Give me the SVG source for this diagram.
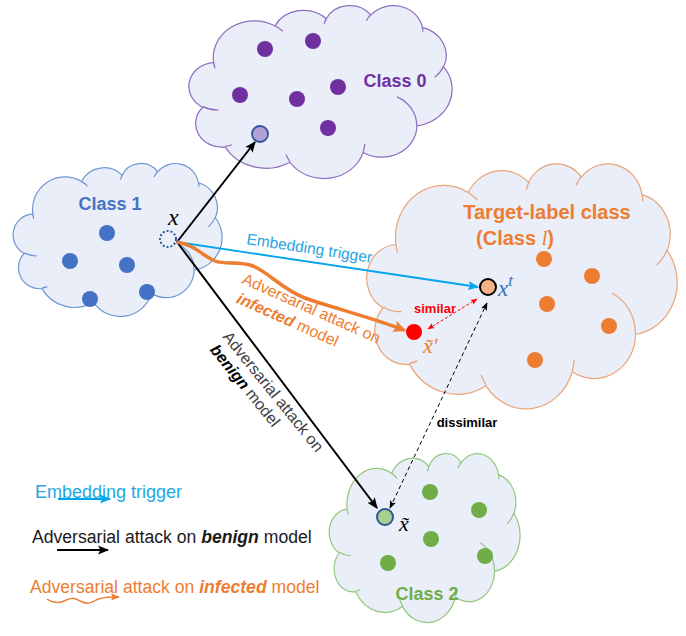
<svg xmlns="http://www.w3.org/2000/svg" width="686" height="636" viewBox="0 0 686 636">
<style>
.cl{fill:#E9EEF8;stroke-width:1.2}
.hk{fill:none;stroke-width:1.2}
.t{font-family:"Liberation Sans","Noto Sans",sans-serif}
.lab{font-family:"Liberation Sans","Noto Sans",sans-serif;font-weight:bold;font-size:18px;text-anchor:middle}
.m{font-family:"Liberation Serif","DejaVu Serif",serif;font-style:italic}
.d1{fill:#4472C4}.d0{fill:#7030A0}.dl{fill:#ED7D31}.d2{fill:#70AD47}
</style>
<defs>
<path id="cloud" vector-effect="non-scaling-stroke" d="M90.3,332.6 A156.3,212.7 0 0 1 324.2,120.4 A123.4,168.2 0 0 1 519.8,79.5 A101,137.6 0 0 1 690.6,57.5 A112.4,152.7 0 0 1 887,129.1 A123.4,168.4 0 0 1 968.1,357.8 A156.8,213.4 0 0 1 865.9,699.1 A133.9,182.1 0 0 1 661,852.1 A156.3,213.3 0 0 1 381.5,908.9 A178.7,244.1 0 0 1 134.4,821 A100.9,137 0 0 1 48.9,591.3 A100.6,137.6 0 0 1 90.3,332.6 Z"/>
<path id="hooks" vector-effect="non-scaling-stroke" d="M108.6,606 A100.6,137.6 0 0 1 50,587.5 M160.4,807.8 A100.9,137 0 0 1 134.7,816.7 M381.4,904.9 A156.3,213.3 0 0 1 366,864.6 M667.3,804.4 A156.3,213.3 0 0 1 661.1,848.6 M790,531.3 A133.9,182.1 0 0 1 865.3,696.5 M967.5,355.4 A123.4,168.4 0 0 1 934,417.4 M887.1,125.6 A112.4,152.7 0 0 1 888.9,154.9 M673.1,91.5 A112.4,152.7 0 0 1 690.3,54.1 M512.5,109.3 A101,137.6 0 0 1 520.8,77.1 M324.1,120.2 A156.3,212.7 0 0 1 354.2,151.4 M95.5,365.5 A156.3,212.7 0 0 1 90.3,332.7"/>
<marker id="ak" viewBox="0 0 10 10" refX="9" refY="5" markerWidth="11" markerHeight="11" orient="auto" markerUnits="userSpaceOnUse"><path d="M0,0.8 L10,5 L0,9.2 L2,5 Z" fill="#000"/></marker>
<marker id="ab" viewBox="0 0 10 10" refX="9" refY="5" markerWidth="11" markerHeight="11" orient="auto" markerUnits="userSpaceOnUse"><path d="M0,0.8 L10,5 L0,9.2 L2,5 Z" fill="#00A6EC"/></marker>
<marker id="ao" viewBox="0 0 10 10" refX="8" refY="5" markerWidth="13" markerHeight="13" orient="auto" markerUnits="userSpaceOnUse"><path d="M0,0.5 L10,5 L0,9.5 L2,5 Z" fill="#ED7D31"/></marker>
<marker id="ao2" viewBox="0 0 10 10" refX="9" refY="5" markerWidth="9" markerHeight="9" orient="auto" markerUnits="userSpaceOnUse"><path d="M0,1 L10,5 L0,9 L2,5 Z" fill="#ED7D31"/></marker>
<marker id="ar" viewBox="0 0 10 10" refX="9" refY="5" markerWidth="7" markerHeight="7" orient="auto-start-reverse" markerUnits="userSpaceOnUse"><path d="M0,1 L10,5 L0,9 L2,5 Z" fill="#FF0000"/></marker>
<marker id="ad" viewBox="0 0 10 10" refX="9" refY="5" markerWidth="8" markerHeight="8" orient="auto-start-reverse" markerUnits="userSpaceOnUse"><path d="M0,1 L10,5 L0,9 L2,5 Z" fill="#000"/></marker>
</defs>

<g id="class1">
<use href="#cloud" class="cl" stroke="#6F96D4" transform="translate(14,163) scale(0.208,0.153)"/>
<use href="#hooks" class="hk" stroke="#6F96D4" transform="translate(14,163) scale(0.208,0.153)"/>
<text class="lab" x="110" y="210" fill="#4472C4">Class 1</text>
<circle class="d1" cx="107" cy="233" r="8"/>
<circle class="d1" cx="70" cy="261" r="8"/>
<circle class="d1" cx="127" cy="265" r="8"/>
<circle class="d1" cx="90" cy="299" r="8"/>
<circle class="d1" cx="147" cy="292" r="8"/>
</g>

<g id="class0">
<use href="#cloud" class="cl" stroke="#8E6BC0" transform="translate(190,5) scale(0.262,0.173)"/>
<use href="#hooks" class="hk" stroke="#8E6BC0" transform="translate(190,5) scale(0.262,0.173)"/>
<text class="lab" x="395" y="87" fill="#7030A0">Class 0</text>
<circle class="d0" cx="265" cy="49" r="8"/>
<circle class="d0" cx="313" cy="41" r="8"/>
<circle class="d0" cx="240" cy="95" r="8"/>
<circle class="d0" cx="297" cy="99" r="8"/>
<circle class="d0" cx="338" cy="87" r="8"/>
<circle class="d0" cx="328" cy="128" r="8"/>
</g>

<g id="target">
<use href="#cloud" class="cl" stroke="#EAA477" transform="translate(368,163) scale(0.309,0.245)"/>
<use href="#hooks" class="hk" stroke="#EAA477" transform="translate(368,163) scale(0.309,0.245)"/>
<text class="lab" x="547" y="219" fill="#ED7D31" style="font-size:20px">Target-label class</text>
<text class="lab" x="515" y="245" fill="#ED7D31" style="font-size:20px">(Class <tspan class="m" font-weight="normal">l</tspan>)</text>
<circle class="dl" cx="544" cy="259" r="8"/>
<circle class="dl" cx="592" cy="276" r="8"/>
<circle class="dl" cx="547" cy="304" r="8"/>
<circle class="dl" cx="609" cy="326" r="8"/>
<circle class="dl" cx="535" cy="360" r="8"/>
</g>

<g id="class2">
<use href="#cloud" class="cl" stroke="#93C77D" transform="translate(330,453) scale(0.19,0.169)"/>
<use href="#hooks" class="hk" stroke="#93C77D" transform="translate(330,453) scale(0.19,0.169)"/>
<text class="lab" x="427" y="600" fill="#70AD47">Class 2</text>
<circle class="d2" cx="430" cy="492" r="8"/>
<circle class="d2" cx="479" cy="510" r="8"/>
<circle class="d2" cx="431" cy="539" r="8"/>
<circle class="d2" cx="388" cy="563" r="8"/>
<circle class="d2" cx="485" cy="556" r="8"/>
</g>

<g id="connectors" fill="none">
<path d="M177,242 L255,142" stroke="#000" stroke-width="2" marker-end="url(#ak)"/>
<path d="M177,242 L377,508" stroke="#000" stroke-width="2" marker-end="url(#ak)"/>
<path d="M177,242 L478,287" stroke="#00A6EC" stroke-width="1.8" marker-end="url(#ab)"/>
<path d="M177,242 C195,245 203,256 215,261 C225,265 240,261 253,266 C268,272 283,290 305,298 C330,307 370,317 404,330" stroke="#ED7D31" stroke-width="3.5" marker-end="url(#ao)"/>
<path d="M428,329 L477,299" stroke="#FF0000" stroke-width="1" stroke-dasharray="3,2" marker-start="url(#ar)" marker-end="url(#ar)"/>
<path d="M390,508 L487,303" stroke="#000" stroke-width="1" stroke-dasharray="4,3" marker-start="url(#ad)" marker-end="url(#ad)"/>
</g>

<g id="point-x">
<circle cx="168" cy="239" r="8" fill="none" stroke="#2F5597" stroke-width="2" stroke-dasharray="2,2"/>
<text class="m" x="168" y="225" font-size="24" fill="#000">x</text>
</g>
<g id="point-class0">
<circle cx="260" cy="134" r="8" fill="#B4A0D6" stroke="#2F5597" stroke-width="1.8"/>
</g>
<g id="point-xt">
<circle cx="488" cy="287" r="8" fill="#F4B183" stroke="#000" stroke-width="2"/>
<text class="m" x="498" y="296" font-size="23" fill="#2E75B6">x<tspan dy="-10" font-size="17">t</tspan></text>
</g>
<g id="point-xadv">
<circle cx="414" cy="332" r="8" fill="#FF0000"/>
<text class="m" x="423" y="353" font-size="22" fill="#ED7D31">x̃′</text>
</g>
<g id="point-xtilde">
<circle cx="385" cy="517" r="8" fill="#A9D18E" stroke="#2F5597" stroke-width="2"/>
<text class="m" x="399" y="531" font-size="22" fill="#000">x̃</text>
</g>

<g id="edge-labels">
<text class="t" transform="translate(246,244) rotate(8.5)" font-size="15.5" fill="#1FA5E0">Embedding trigger</text>
<text class="t" transform="translate(241,283) rotate(24)" font-size="16" fill="#ED7D31">Adversarial attack on<tspan x="3" dy="20"><tspan font-weight="bold" font-style="italic">infected</tspan> model</tspan></text>
<text class="t" transform="translate(222,337) rotate(51)" font-size="16" fill="#404040">Adversarial attack on<tspan x="2" dy="18"><tspan font-weight="bold" font-style="italic" fill="#000">benign</tspan> model</tspan></text>
<text class="t" x="435" y="313" font-size="13" font-weight="bold" text-anchor="middle" fill="#FF0000">similar</text>
<text class="t" x="467" y="427" font-size="13" font-weight="bold" text-anchor="middle" fill="#000">dissimilar</text>
</g>

<g id="legend">
<text class="t" x="35" y="498" font-size="18" fill="#1FA8E2">Embedding trigger</text>
<path d="M58,499 L110,499" stroke="#00A6EC" stroke-width="1.8" fill="none" marker-end="url(#ab)"/>
<text class="t" x="32" y="543" font-size="17.6" fill="#1A1A1A">Adversarial attack on <tspan font-weight="bold" font-style="italic">benign</tspan> model</text>
<path d="M57,550 L108,550" stroke="#000" stroke-width="2" fill="none" marker-end="url(#ak)"/>
<text class="t" x="30" y="593" font-size="17.6" fill="#ED7D31">Adversarial attack on <tspan font-weight="bold" font-style="italic">infected</tspan> model</text>
<path d="M47,599 C53,603 58,604 64,601 C70,598 74,597 80,601 C86,604 90,604 96,600 C102,597 108,597 119,597" stroke="#ED7D31" stroke-width="1.5" fill="none" marker-end="url(#ao2)"/>
</g>
</svg>
